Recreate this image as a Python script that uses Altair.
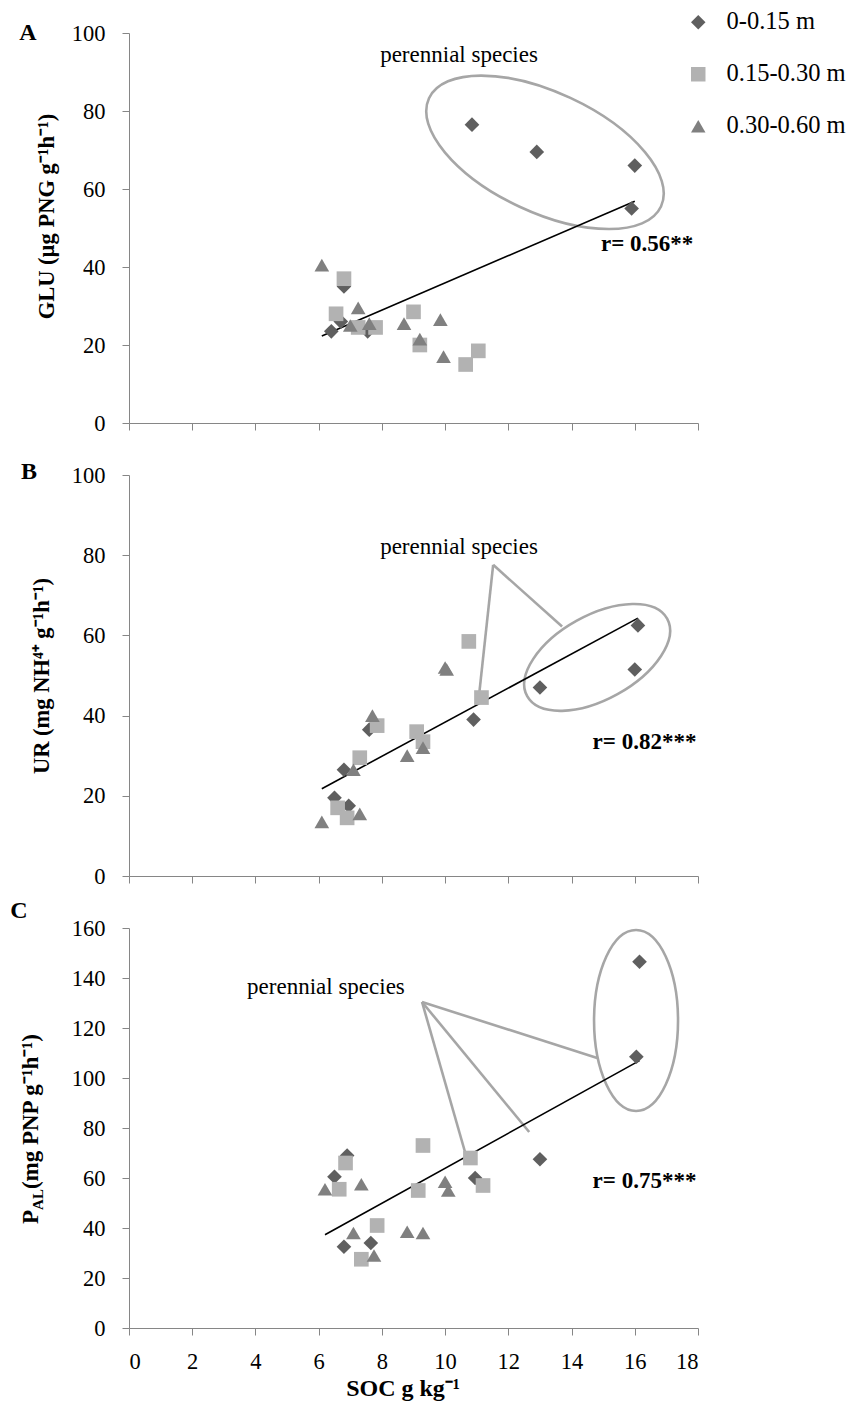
import altair as alt
import pandas as pd

FONT = "Liberation Serif"
AXIS_GREY = "#868686"
GUIDE_GREY = "#a6a6a6"

DEPTHS = ["0-0.15 m", "0.15-0.30 m", "0.30-0.60 m"]
SHAPES = ["diamond", "square", "triangle-up"]
COLORS = ["#5f5f5f", "#b2b2b2", "#808080"]
SOC_TICKS = list(range(0, 19, 2))

# ---- A: GLU vs SOC -------------------------------------------------------
glu_soc_d = [10.85, 12.9, 16.0, 15.9, 6.4, 6.8, 6.7, 7.55]
glu_d = [76.5, 69.5, 66.0, 55.0, 23.5, 35.0, 26.0, 23.5]
glu_soc_s = [6.8, 6.55, 7.8, 7.25, 9.0, 9.2, 11.05, 10.65]
glu_s = [37.0, 28.0, 24.5, 24.5, 28.5, 20.0, 18.5, 15.0]
glu_soc_t = [6.1, 7.25, 7.0, 7.6, 8.7, 9.85, 9.2, 9.95]
glu_t = [40.5, 29.5, 25.0, 25.5, 25.5, 26.5, 21.5, 17.0]

# ---- B: UR vs SOC --------------------------------------------------------
ur_soc_d = [10.9, 7.6, 6.8, 6.5, 6.95, 16.1, 16.0, 13.0]
ur_d = [39.0, 36.5, 26.5, 19.5, 17.5, 62.5, 51.5, 47.0]
ur_soc_s = [10.75, 11.15, 7.85, 9.1, 9.3, 7.3, 6.6, 6.9]
ur_s = [58.5, 44.5, 37.5, 36.0, 33.5, 29.5, 17.0, 14.5]
ur_soc_t = [10.0, 10.05, 7.7, 9.3, 8.8, 7.1, 7.3, 6.1]
ur_t = [52.0, 51.5, 40.0, 32.0, 30.0, 26.5, 15.5, 13.5]

# ---- C: P_AL vs SOC ------------------------------------------------------
pal_soc_d = [6.9, 6.5, 10.95, 6.8, 7.65, 16.15, 16.05, 13.0]
pal_d = [69.0, 60.5, 60.0, 32.5, 34.0, 146.5, 108.5, 67.5]
pal_soc_s = [6.85, 6.65, 9.3, 10.8, 11.2, 9.15, 7.85, 7.35]
pal_s = [66.0, 55.5, 73.0, 68.0, 57.0, 55.0, 41.0, 27.5]
pal_soc_t = [6.2, 7.35, 10.0, 10.1, 7.1, 7.75, 8.8, 9.3]
pal_t = [55.5, 57.5, 58.5, 55.0, 38.0, 29.0, 38.5, 38.0]

# ---- annotations (data coordinates) --------------------------------------
r_labels = ["r= 0.56**", "r= 0.82***", "r= 0.75***"]
r_pos = [(17.85, 46.0), (17.95, 33.3), (17.95, 59.0)]   # right end of text
note_text = "perennial species"
note_pos = [(10.44, 94.3), (10.44, 82.1), (6.23, 136.4)]
# ellipse centres, radii in px (major, minor) and rotation
ellipse_centre = [(13.16, 69.4), (14.81, 54.5), (16.04, 123.0)]
ellipse_axes = [(128, 60), (80, 42), (90.5, 42)]
ellipse_angle = [25, 331, 90]
# leader lines: (x1, y1, x2, y2)
leaders_b = [(11.52, 77.6, 11.07, 44.8), (11.52, 77.6, 13.7, 62.2)]
leaders_c = [(9.27, 130.4, 10.63, 70.4), (9.27, 130.4, 12.66, 78.4),
             (9.27, 130.4, 14.81, 108.0)]

TICK_FS = 22.5
TEXT_FS = 23
TITLE_FS = 22.5
LETTER_FS = 24
LEGEND_FS = 24.5


def long_frame(socs, vals):
    rows = []
    for depth, xs, ys in zip(DEPTHS, socs, vals):
        for x, y in zip(xs, ys):
            rows.append({"soc": x, "val": y, "depth": depth})
    return pd.DataFrame(rows)


legend_spec = alt.Legend(
    title=None, orient="none", legendX=557, legendY=-23,
    symbolSize=210, labelFont=FONT, labelFontSize=LEGEND_FS, labelColor="black",
    rowPadding=27, labelOffset=16, symbolStrokeWidth=0, padding=0,
    symbolOpacity=1,
)


def ellipse_path(ratio):
    return (f"M-1,0A1,{ratio},0,1,1,1,0A1,{ratio},0,1,1,-1,0Z")


def panel(df, ymax, ytitle, idx, letter, letter_pos, show_x, height,
          title_pad=9, title_y=None, leaders=None):
    if show_x:
        x_axis = alt.Axis(values=SOC_TICKS, title="SOC g kg⁻¹",
                          titleFontSize=24, titleX=273.6)
    else:
        x_axis = alt.Axis(values=SOC_TICKS, labels=False, title=None)
    x = alt.X("soc:Q", scale=alt.Scale(domain=[0, 18], nice=False, zero=False),
              axis=x_axis)
    y_axis_args = dict(values=list(range(0, ymax + 1, 20)), title=ytitle,
                       titlePadding=title_pad)
    if title_y is not None:
        y_axis_args["titleY"] = title_y
    y = alt.Y("val:Q", scale=alt.Scale(domain=[0, ymax], nice=False),
              axis=alt.Axis(**y_axis_args))

    color = alt.Color("depth:N", scale=alt.Scale(domain=DEPTHS, range=COLORS),
                      legend=legend_spec)
    shape = alt.Shape("depth:N", scale=alt.Scale(domain=DEPTHS, range=SHAPES),
                      legend=legend_spec)

    base = alt.Chart(df)
    fit = base.transform_regression("soc", "val").mark_line(
        color="black", strokeWidth=1.6).encode(x=x, y=y)
    pts = base.mark_point(filled=True, opacity=1, size=215).encode(
        x=x, y=y, color=color, shape=shape)

    a, b = ellipse_axes[idx]
    cx, cy = ellipse_centre[idx]
    ell = alt.Chart(pd.DataFrame({"soc": [cx], "val": [cy]})).mark_point(
        shape=ellipse_path(round(b / a, 3)), size=(2 * a) ** 2,
        angle=ellipse_angle[idx], filled=False, color=GUIDE_GREY,
        strokeWidth=2.6, opacity=1,
    ).encode(x=x, y=y)

    nx, ny = note_pos[idx]
    note = alt.Chart(pd.DataFrame({"soc": [nx], "val": [ny], "t": [note_text]})).mark_text(
        font=FONT, fontSize=TEXT_FS, color="black", align="center", baseline="middle"
    ).encode(x=x, y=y, text="t:N")

    rx, ry = r_pos[idx]
    rtxt = alt.Chart(pd.DataFrame({"soc": [rx], "val": [ry], "t": [r_labels[idx]]})).mark_text(
        font=FONT, fontSize=TEXT_FS, fontWeight="bold", color="black",
        align="right", baseline="middle"
    ).encode(x=x, y=y, text="t:N")

    lx, ly = letter_pos
    let = alt.Chart(pd.DataFrame({"t": [letter]})).mark_text(
        font=FONT, fontSize=LETTER_FS, fontWeight="bold", color="black",
        align="center", baseline="middle"
    ).encode(x=alt.value(lx), y=alt.value(ly), text="t:N")

    layers = [ell]
    if leaders:
        ld = pd.DataFrame(leaders, columns=["soc", "val", "soc2", "val2"])
        layers.append(alt.Chart(ld).mark_rule(color=GUIDE_GREY, strokeWidth=2.6).encode(
            x=x, y=y, x2="soc2:Q", y2="val2:Q"))
    layers += [fit, pts, note, rtxt, let]
    return alt.layer(*layers).properties(width=569, height=height)


pa = panel(long_frame([glu_soc_d, glu_soc_s, glu_soc_t], [glu_d, glu_s, glu_t]),
           100, "GLU (µg PNG g⁻¹h⁻¹)", 0, "A", (-101, 0), False, 390,
           title_pad=13, title_y=183)
pb = panel(long_frame([ur_soc_d, ur_soc_s, ur_soc_t], [ur_d, ur_s, ur_t]),
           100, "UR (mg NH⁴⁺ g⁻¹h⁻¹)", 1, "B", (-100, -3), False, 401,
           title_pad=18, leaders=leaders_b)
pc = panel(long_frame([pal_soc_d, pal_soc_s, pal_soc_t], [pal_d, pal_s, pal_t]),
           160, None, 2, "C", (-110, -17), True, 400, leaders=leaders_c)

# composite y title with subscript for panel C
C_TITLE_FS = 23
p_w = 0.611 * C_TITLE_FS
al_fs = 15
al_w = 1.389 * al_fs
title_parts = pd.DataFrame({
    "t": ["P", "AL", " (mg PNP g⁻¹h⁻¹)"],
    "px": [-91, -86, -91],
    "py": [296, 296 - p_w, 296 - p_w - al_w],
    "fs": [C_TITLE_FS, al_fs, C_TITLE_FS],
})
c_title = []
for _, r in title_parts.iterrows():
    c_title.append(alt.Chart(pd.DataFrame({"t": [r.t]})).mark_text(
        font=FONT, fontSize=float(r.fs), fontWeight="bold", color="black",
        angle=270, align="left", baseline="alphabetic"
    ).encode(x=alt.value(float(r.px)), y=alt.value(float(r.py)), text="t:N"))
pc = alt.layer(pc, *c_title)

chart = alt.vconcat(pa, pb, pc, spacing=52, bounds="flush").configure_axis(
    domainColor=AXIS_GREY, tickColor=AXIS_GREY, tickSize=7, grid=False,
    labelFont=FONT, labelFontSize=TICK_FS, labelColor="black",
    titleFont=FONT, titleFontSize=TITLE_FS, titleFontWeight="bold", titleColor="black",
).configure_axisY(labelPadding=17).configure_axisX(
    labelPadding=15, titlePadding=4
).configure_view(stroke=None).properties(
    padding={"left": 10, "top": 10, "right": 0, "bottom": 4}
)

chart.save("out.html", embed_options={"renderer": "svg", "actions": False})
